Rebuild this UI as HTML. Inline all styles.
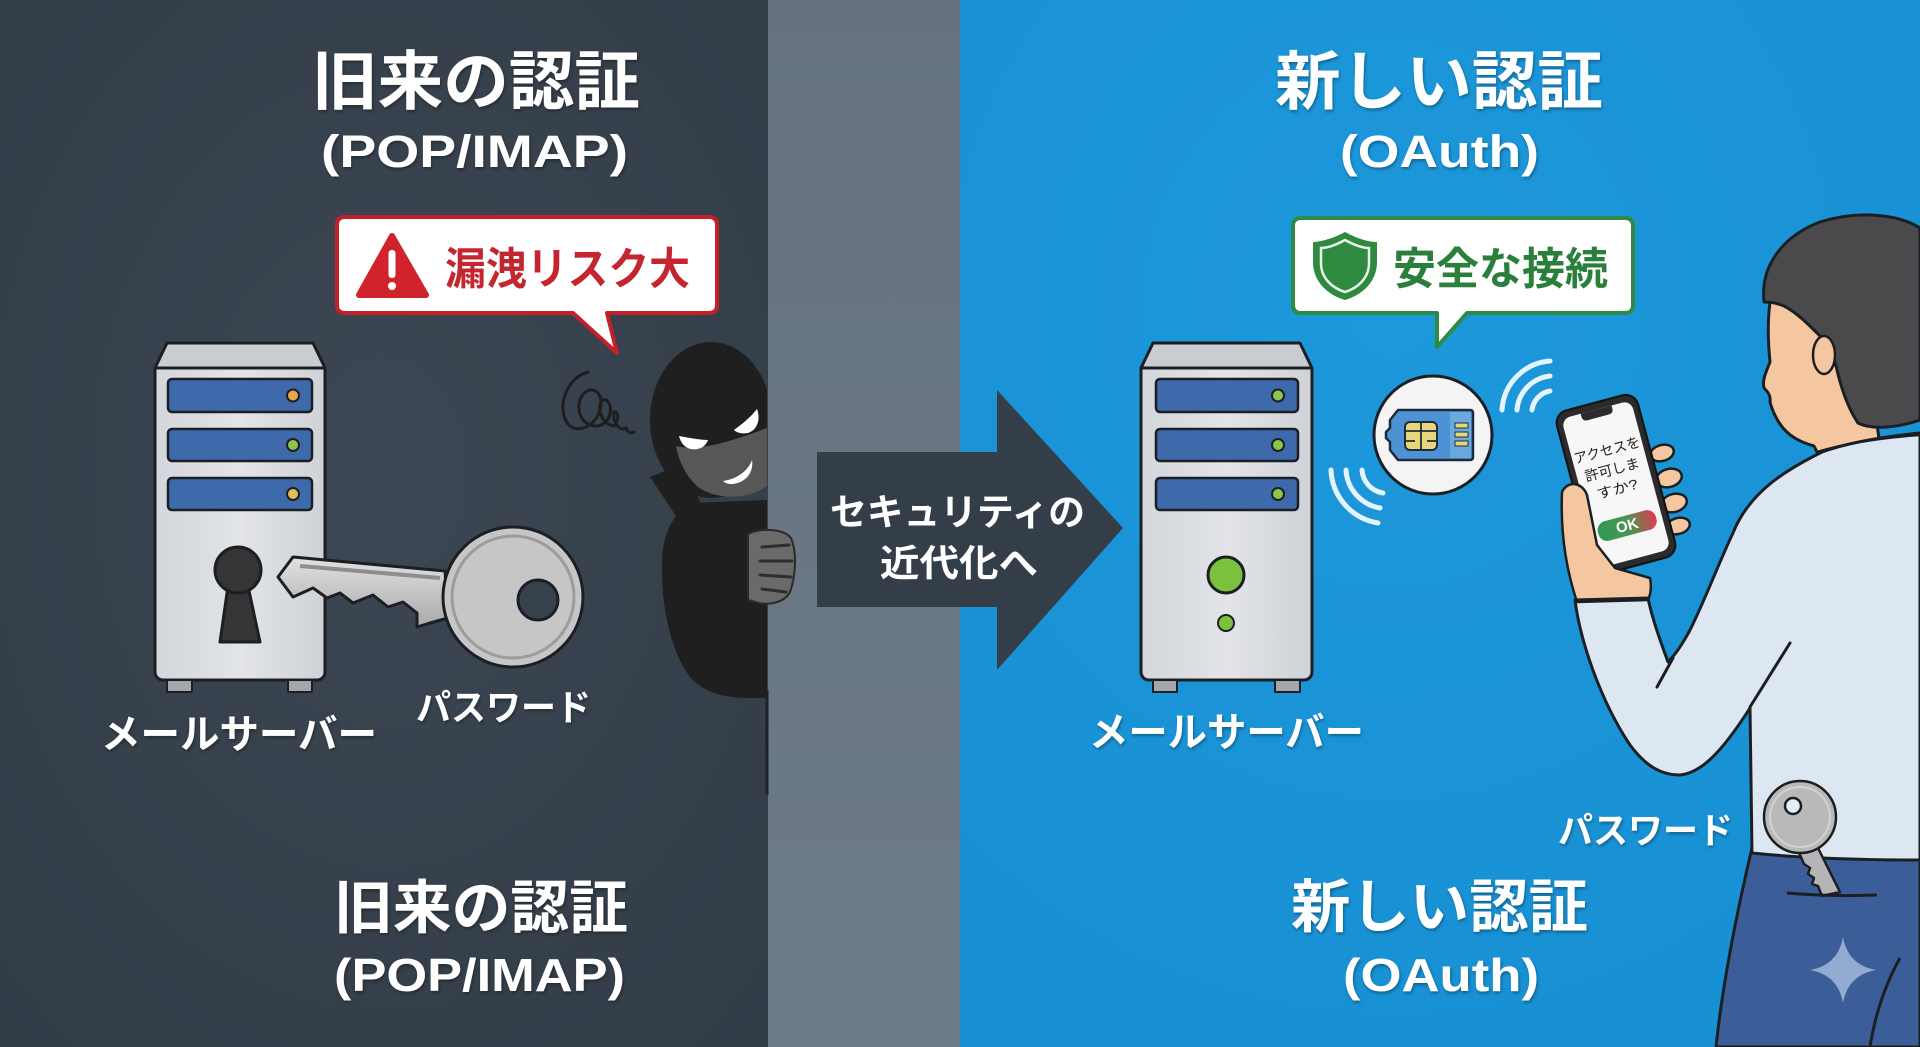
<!DOCTYPE html>
<html lang="ja">
<head>
<meta charset="utf-8">
<style>
  html,body{margin:0;padding:0;background:#38434e;}
  svg{display:block;}
  .t{font-family:"Liberation Sans","Noto Sans CJK JP",sans-serif;font-weight:bold;}
</style>
</head>
<body>
<svg width="1920" height="1047" viewBox="0 0 1920 1047" xmlns="http://www.w3.org/2000/svg">
<defs>
  <radialGradient id="lg" cx="0.5" cy="0.45" r="0.8">
    <stop offset="0" stop-color="#3c4753"/>
    <stop offset="1" stop-color="#313b46"/>
  </radialGradient>
  <linearGradient id="gs" x1="0" y1="0" x2="0" y2="1">
    <stop offset="0" stop-color="#66737f"/>
    <stop offset="1" stop-color="#6d7a87"/>
  </linearGradient>
  <radialGradient id="bg2" cx="0.45" cy="0.3" r="0.9">
    <stop offset="0" stop-color="#1d98db"/>
    <stop offset="1" stop-color="#168fd2"/>
  </radialGradient>
  <linearGradient id="ok" x1="0" x2="1" y1="0" y2="0">
    <stop offset="0" stop-color="#2f9a58"/>
    <stop offset="0.55" stop-color="#4f9252"/>
    <stop offset="1" stop-color="#e5394f"/>
  </linearGradient>
  <linearGradient id="keyg" x1="0" y1="0" x2="0" y2="1">
    <stop offset="0" stop-color="#e2e2e2"/>
    <stop offset="1" stop-color="#a8a8a8"/>
  </linearGradient>
  <linearGradient id="srv" x1="0" y1="0" x2="1" y2="0">
    <stop offset="0" stop-color="#d3d6da"/>
    <stop offset="0.5" stop-color="#e2e4e7"/>
    <stop offset="1" stop-color="#cfd2d6"/>
  </linearGradient>
  <filter id="sh" x="-10%" y="-20%" width="120%" height="150%">
    <feDropShadow dx="1" dy="2" stdDeviation="1.5" flood-color="#000" flood-opacity="0.35"/>
  </filter>
  <clipPath id="lc"><rect x="0" y="0" width="767" height="1047"/></clipPath>
</defs>

<!-- backgrounds -->
<rect x="0" y="0" width="768" height="1047" fill="url(#lg)"/>
<rect x="768" y="0" width="192" height="1047" fill="url(#gs)"/>
<rect x="960" y="0" width="960" height="1047" fill="url(#bg2)"/>

<!-- arrow -->
<polygon points="817,452 997,452 997,390 1123,528 997,670 997,607 817,607" fill="#343e49"/>
<text class="t" x="830" y="525" font-size="37" fill="#fff" textLength="255" lengthAdjust="spacingAndGlyphs">セキュリティの</text>
<text class="t" x="880" y="576" font-size="37" fill="#fff" textLength="158" lengthAdjust="spacingAndGlyphs">近代化へ</text>

<!-- thief -->
<g clip-path="url(#lc)">
  <path d="M767,500 L690,503 C672,515 663,535 662,560 C661,600 668,640 684,668 C695,688 715,697 745,698 L767,698 Z" fill="#1f1f1f"/>
  <path d="M650,477 L683,464 L702,506 L676,516 Z" fill="#1f1f1f"/>
  <ellipse cx="711" cy="420" rx="61" ry="78" fill="#1f1f1f"/>
  <path d="M676,446 C700,452 735,440 767,428 L767,486 C748,500 716,500 698,487 C686,476 679,462 676,446 Z" fill="#575757"/>
  <path d="M679,436 C690,438 700,440 708,440 C705,449 694,452 686,447 C682,444 680,440 679,436 Z" fill="#fff"/>
  <path d="M734,430 C742,424 750,418 757,409 C761,420 757,430 748,433 C742,434 737,433 734,430 Z" fill="#fff"/>
  <path d="M723,481 C737,479 748,471 752,460 C754,472 746,483 732,484 C728,484 725,483 723,481 Z" fill="#fff"/>
</g>
<line x1="767" y1="690" x2="767" y2="795" stroke="#1f2329" stroke-width="3"/>
<path d="M748,534 C760,528 783,528 791,538 C797,552 796,575 790,592 C784,603 768,606 755,602 L748,600 Z" fill="#6a6a6a" stroke="#2a2a2a" stroke-width="2"/>
<path d="M762,547 L789,545 M760,561 L792,561 M760,575 L791,577 M762,589 L786,592" stroke="#2e2e2e" stroke-width="3" stroke-linecap="round" fill="none"/>
<!-- scribble -->
<path d="M588,372 C566,378 556,408 568,424 C578,436 600,424 601,404 C602,388 586,384 580,400 C574,418 592,434 606,422 C614,412 610,398 603,400 C596,404 600,424 614,426 C620,420 618,410 614,412 C612,422 620,432 626,428 C628,434 632,433 634,432" fill="none" stroke="#1e1e1e" stroke-width="3" stroke-linecap="round"/>

<!-- left bubble -->
<path d="M345,217 H709 Q717,217 717,225 V305 Q717,313 709,313 H607 L617,353 L573,313 H345 Q337,313 337,305 V225 Q337,217 345,217 Z" fill="#fff" stroke="#c42028" stroke-width="4" stroke-linejoin="round"/>
<path d="M392,236 L426,295 L359,295 Z" fill="#d0232b" stroke="#d0232b" stroke-width="6" stroke-linejoin="round"/>
<rect x="388.5" y="250" width="7" height="28" rx="3" fill="#fff"/>
<circle cx="392" cy="286" r="4" fill="#fff"/>
<text class="t" x="445" y="284" font-size="44" fill="#c3262e" textLength="245" lengthAdjust="spacingAndGlyphs">漏洩リスク大</text>

<!-- right bubble -->
<path d="M1301,218 H1625 Q1633,218 1633,226 V305 Q1633,313 1625,313 H1467 L1437,347 V313 H1301 Q1293,313 1293,305 V226 Q1293,218 1301,218 Z" fill="#fff" stroke="#2f8a45" stroke-width="4" stroke-linejoin="round"/>
<path d="M1345,232 C1330,240 1318,242 1313,242 L1313,262 C1313,282 1328,295 1345,300 C1362,295 1377,282 1377,262 L1377,242 C1370,242 1360,240 1345,232 Z" fill="#2d8a3e"/>
<path d="M1345,240 C1334,246 1326,248 1321,248 L1321,263 C1321,278 1332,288 1345,292 C1358,288 1369,278 1369,263 L1369,248 C1364,248 1356,246 1345,240 Z" fill="none" stroke="#e8f5ea" stroke-width="2.5"/>
<text class="t" x="1393" y="284" font-size="44" fill="#2a7f3b" textLength="215" lengthAdjust="spacingAndGlyphs">安全な接続</text>

<!-- left server -->
<g stroke="#1b1f24" stroke-width="3" stroke-linejoin="round">
  <rect x="155" y="362" width="170" height="318" rx="8" fill="url(#srv)"/>
  <polygon points="167,343 313,343 325,368 155,368" fill="#c9ccd0"/>
  <rect x="167" y="680" width="25" height="12" fill="#a3a6aa" stroke-width="2"/>
  <rect x="288" y="680" width="24" height="12" fill="#a3a6aa" stroke-width="2"/>
  <rect x="168" y="379" width="144" height="33" rx="4" fill="#3e6aac" stroke-width="2.5"/>
  <rect x="168" y="429" width="144" height="32" rx="4" fill="#3e6aac" stroke-width="2.5"/>
  <rect x="168" y="478" width="144" height="32" rx="4" fill="#3e6aac" stroke-width="2.5"/>
  <circle cx="293" cy="395.5" r="6" fill="#e8a850" stroke-width="2"/>
  <circle cx="293" cy="445" r="6" fill="#8cc64a" stroke-width="2"/>
  <circle cx="293" cy="494" r="6" fill="#e2bc55" stroke-width="2"/>
  <path d="M228,586 L248,586 L260,642 L220,642 Z" fill="#353535"/>
  <circle cx="238" cy="570" r="23" fill="#353535"/>
</g>
<rect x="229" y="582" width="18" height="8" fill="#353535"/>

<!-- left key -->
<g stroke="#1b1f24" stroke-width="3" stroke-linejoin="round">
  <path d="M278,577 L293,557 L445,571 L448,618 L430,623 L417,627 L417,613 L403,602 L388,607 L373,595 L353,603 L340,593 L327,598 L313,588 L293,597 Z" fill="url(#keyg)"/>
  <circle cx="513" cy="597" r="70" fill="#c6c6c6"/>
  <circle cx="513" cy="597" r="61" fill="none" stroke="#9c9c9c" stroke-width="3"/>
  <circle cx="538" cy="600" r="20" fill="#37424d"/>
</g>
<path d="M300,566 L440,578" stroke="#8e8e8e" stroke-width="4" fill="none"/>

<!-- right server -->
<g stroke="#1b1f24" stroke-width="3" stroke-linejoin="round">
  <rect x="1141" y="362" width="171" height="318" rx="8" fill="url(#srv)"/>
  <polygon points="1153,343 1300,343 1312,368 1141,368" fill="#c9ccd0"/>
  <rect x="1153" y="680" width="24" height="12" fill="#a3a6aa" stroke-width="2"/>
  <rect x="1275" y="680" width="25" height="12" fill="#a3a6aa" stroke-width="2"/>
  <rect x="1156" y="379" width="142" height="33" rx="4" fill="#3e6aac" stroke-width="2.5"/>
  <rect x="1156" y="429" width="142" height="32" rx="4" fill="#3e6aac" stroke-width="2.5"/>
  <rect x="1156" y="478" width="142" height="32" rx="4" fill="#3e6aac" stroke-width="2.5"/>
  <circle cx="1278" cy="395.5" r="6" fill="#8cc64a" stroke-width="2"/>
  <circle cx="1278" cy="445" r="6" fill="#8cc64a" stroke-width="2"/>
  <circle cx="1278" cy="494" r="6" fill="#8cc64a" stroke-width="2"/>
  <circle cx="1226" cy="575" r="18" fill="#7cc13e"/>
  <circle cx="1226" cy="623" r="8" fill="#7cc13e" stroke-width="2"/>
</g>

<!-- SIM circle -->
<circle cx="1433" cy="435" r="59" fill="#f4f4f4" stroke="#1b1f24" stroke-width="3"/>
<path d="M1398,410 L1470,410 Q1473,410 1473,413 L1473,457 Q1473,460 1470,460 L1398,460 L1390,450 L1390,442 L1386,438 L1386,432 L1390,428 L1390,420 Z" fill="#4d92d4" stroke="#1e2b3a" stroke-width="2.5" stroke-linejoin="round"/>
<rect x="1450" y="412" width="21" height="46" fill="#6aa8e0"/>
<rect x="1405" y="422" width="32" height="28" rx="5" fill="#e8d77a" stroke="#1e2b3a" stroke-width="2"/>
<path d="M1405,431 H1415 M1405,441 H1415 M1427,431 H1437 M1427,441 H1437 M1421,422 V450 M1415,431 H1427" stroke="#1e2b3a" stroke-width="1.8" fill="none"/>
<rect x="1455" y="423" width="13" height="5" fill="#e8d77a" stroke="#1e2b3a" stroke-width="1"/>
<rect x="1455" y="432" width="13" height="5" fill="#e8d77a" stroke="#1e2b3a" stroke-width="1"/>
<rect x="1455" y="441" width="13" height="5" fill="#e8d77a" stroke="#1e2b3a" stroke-width="1"/>

<!-- wifi arcs -->
<g fill="none" stroke="#e4f5ff" stroke-width="5" stroke-linecap="round">
  <path d="M1502,410 A52,52 0 0 1 1550,361"/>
  <path d="M1517,410 A37,37 0 0 1 1550,376"/>
  <path d="M1532,410 A22,22 0 0 1 1550,391"/>
  <path d="M1331,470 A56,56 0 0 0 1378,523"/>
  <path d="M1346,470 A41,41 0 0 0 1380,508"/>
  <path d="M1362,470 A25,25 0 0 0 1383,493"/>
</g>

<!-- man: pants -->
<path d="M1752,848 C1800,855 1860,858 1920,858 L1920,1047 L1716,1047 C1722,990 1735,920 1752,848 Z" fill="#3b5e99" stroke="#1b1f24" stroke-width="3"/>
<path d="M1900,958 C1885,985 1875,1015 1870,1047" fill="none" stroke="#1b1f24" stroke-width="3"/>

<!-- man: palm (behind cuff) -->
<!-- man: face -->
<path d="M1771,296 C1767,318 1768,342 1770,362 C1766,372 1762,380 1764,388 C1768,392 1771,396 1770,402 C1772,410 1776,418 1780,424 C1788,436 1800,442 1814,446 L1822,462 L1880,446 L1860,300 Z" fill="#f5c7a1" stroke="#1b1f24" stroke-width="3" stroke-linejoin="round"/>

<!-- man: shirt -->
<path d="M1575,600 C1580,640 1600,700 1630,745 C1645,765 1660,775 1680,775 C1700,773 1720,755 1750,708 L1752,853 C1800,858 1860,860 1920,860 L1920,433 C1890,436 1850,442 1822,452 C1790,468 1750,490 1733,533 C1720,560 1705,600 1690,630 C1682,645 1675,655 1668,662 C1660,640 1652,618 1648,598 Z" fill="#dde7f1" stroke="#1b1f24" stroke-width="3" stroke-linejoin="round"/>
<path d="M1657,687 L1673,658 M1790,643 L1750,707" stroke="#1b1f24" stroke-width="3" fill="none" stroke-linecap="round"/>
<path d="M1817,452 C1850,442 1890,437 1920,435" stroke="#1b1f24" stroke-width="2.5" fill="none"/>

<!-- man: hair -->
<path d="M1764,302 C1760,266 1783,236 1820,222 C1858,210 1898,214 1920,228 L1920,420 C1896,428 1872,430 1858,423 C1848,408 1842,390 1838,374 C1834,356 1828,342 1818,334 C1808,324 1796,312 1784,306 C1777,303 1770,302 1764,302 Z" fill="#4a4a4c" stroke="#1b1f24" stroke-width="3" stroke-linejoin="round"/>
<ellipse cx="1824" cy="355" rx="11" ry="19" fill="#f5c7a1" stroke="#1b1f24" stroke-width="2.5"/>

<!-- fingers -->
<g fill="#f5c7a1" stroke="#1b1f24" stroke-width="2.5">
  <ellipse cx="1662" cy="453" rx="12" ry="8" transform="rotate(-15 1662 453)"/>
  <ellipse cx="1669" cy="478" rx="13" ry="9" transform="rotate(-15 1669 478)"/>
  <ellipse cx="1674" cy="503" rx="13" ry="9" transform="rotate(-15 1674 503)"/>
  <ellipse cx="1678" cy="526" rx="12" ry="8" transform="rotate(-15 1678 526)"/>
</g>

<!-- phone -->
<g transform="translate(1616,484) rotate(-15)">
  <rect x="-42" y="-84" width="84" height="168" rx="13" fill="#2b2b2d" stroke="#111" stroke-width="2"/>
  <rect x="-36" y="-77" width="72" height="154" rx="9" fill="#f7f7f7"/>
  <path d="M-16,-77 h32 v3 q0,5 -5,5 h-22 q-5,0 -5,-5 z" fill="#2b2b2d"/>
  <text class="t" x="0" y="-30" font-size="14" font-weight="normal" fill="#222" text-anchor="middle" textLength="68" lengthAdjust="spacingAndGlyphs" style="font-weight:normal">アクセスを</text>
  <text class="t" x="0" y="-10" font-size="14" fill="#222" text-anchor="middle" textLength="56" lengthAdjust="spacingAndGlyphs" style="font-weight:normal">許可しま</text>
  <text class="t" x="0" y="10" font-size="14" fill="#222" text-anchor="middle" textLength="42" lengthAdjust="spacingAndGlyphs" style="font-weight:normal">すか?</text>
  <rect x="-30" y="33" width="60" height="20" rx="9" fill="url(#ok)"/>
  <text class="t" x="0" y="48" font-size="15" fill="#fff" text-anchor="middle">OK</text>
</g>

<!-- palm / thumb -->
<path d="M1562,492 C1568,480 1582,482 1587,495 L1597,545 L1615,568 L1650,578 C1652,588 1650,596 1648,600 L1577,602 C1569,578 1560,540 1562,492 Z" fill="#f5c7a1" stroke="#1b1f24" stroke-width="2.5" stroke-linejoin="round"/>
<path d="M1575,600 L1649,598" stroke="#1b1f24" stroke-width="3"/>

<!-- key in pocket -->
<g stroke="#1b1f24" stroke-width="2.5" stroke-linejoin="round">
  <polygon points="1796,846 1814,840 1840,892 1822,896 1818,886 1812,884 1814,878 1808,874 1810,868 1804,864" fill="#b5b5b5"/>
  <circle cx="1800" cy="817" r="36" fill="#b9b9b9"/>
  <circle cx="1800" cy="817" r="30" fill="none" stroke="#d2d2d2" stroke-width="2"/>
  <circle cx="1793" cy="806" r="8" fill="#e6eef6"/>
</g>
<path d="M1787,893 C1820,896 1850,896 1877,895" stroke="#1b1f24" stroke-width="3" fill="none"/>

<!-- sparkle -->
<path d="M1843,937 Q1848,965 1876,970 Q1848,975 1843,1003 Q1838,975 1810,970 Q1838,965 1843,937 Z" fill="#a9bedd" opacity="0.8"/>

<!-- titles -->
<g filter="url(#sh)" fill="#fff">
  <text class="t" x="312" y="104" font-size="64" textLength="328" lengthAdjust="spacingAndGlyphs">旧来の認証</text>
  <text class="t" x="321" y="167" font-size="45" textLength="307" lengthAdjust="spacingAndGlyphs">(POP/IMAP)</text>
  <text class="t" x="1275" y="104" font-size="64" textLength="328" lengthAdjust="spacingAndGlyphs">新しい認証</text>
  <text class="t" x="1340" y="167" font-size="45" textLength="199" lengthAdjust="spacingAndGlyphs">(OAuth)</text>

  <text class="t" x="334" y="928" font-size="58" textLength="294" lengthAdjust="spacingAndGlyphs">旧来の認証</text>
  <text class="t" x="334" y="991" font-size="46" textLength="291" lengthAdjust="spacingAndGlyphs">(POP/IMAP)</text>
  <text class="t" x="1291" y="927" font-size="58" textLength="297" lengthAdjust="spacingAndGlyphs">新しい認証</text>
  <text class="t" x="1343" y="991" font-size="46" textLength="196" lengthAdjust="spacingAndGlyphs">(OAuth)</text>

  <text class="t" x="101" y="748" font-size="40" textLength="276" lengthAdjust="spacingAndGlyphs">メールサーバー</text>
  <text class="t" x="416" y="720" font-size="36" textLength="175" lengthAdjust="spacingAndGlyphs">パスワード</text>
  <text class="t" x="1089" y="746" font-size="40" textLength="275" lengthAdjust="spacingAndGlyphs">メールサーバー</text>
  <text class="t" x="1558" y="843" font-size="36" textLength="175" lengthAdjust="spacingAndGlyphs">パスワード</text>
</g>
</svg>
</body>
</html>
